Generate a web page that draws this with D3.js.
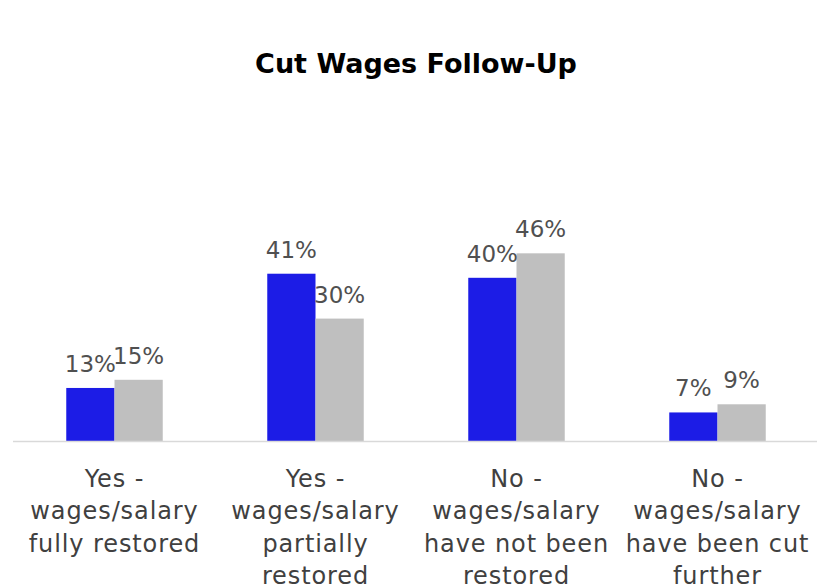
<!DOCTYPE html>
<html><head><meta charset="utf-8">
<script src="https://cdn.jsdelivr.net/npm/d3@7/dist/d3.min.js"></script>
<style>body{margin:0;background:#fff}</style>
</head><body>
<svg id="c" width="817" height="587"></svg>
<script>
const title = "Cut Wages Follow-Up";
const categories = [
  ["Yes -", "wages/salary", "fully restored"],
  ["Yes -", "wages/salary", "partially", "restored"],
  ["No -", "wages/salary", "have not been", "restored"],
  ["No -", "wages/salary", "have been cut", "further"]
];
const seriesNames = ["Series A", "Series B"];
const seriesA = [13, 41, 40, 7];
const seriesB = [15, 30, 46, 9];
const colors = ["#1c1ce6", "#bfbfbf"];

const svg = d3.select("#c");
const left = 13, right = 817, baseY = 441;
const font = "'DejaVu Sans', sans-serif";

svg.append("text").attr("x", 416).attr("y", 73).attr("text-anchor", "middle")
  .attr("font-family", font).attr("font-weight", "bold").attr("font-size", 27)
  .attr("fill", "#000").text(title);

const x0 = d3.scaleBand().domain(d3.range(categories.length)).range([left, right]).paddingInner(0.52).paddingOuter(0.26);
const x1 = d3.scaleBand().domain([0, 1]).range([0, x0.bandwidth()]);
const y = d3.scaleLinear().domain([0, 60]).range([baseY, baseY - 4.08 * 60]);

const data = categories.map((c, i) => ({i, vals: [seriesA[i], seriesB[i]]}));
const g = svg.append("g");
const groups = g.selectAll("g.cat").data(data).join("g").attr("class", "cat")
  .attr("transform", d => `translate(${x0(d.i) + 1},0)`);
groups.selectAll("rect").data(d => d.vals.map((v, s) => ({v, s}))).join("rect")
  .attr("x", d => x1(d.s)).attr("width", x1.bandwidth())
  .attr("y", d => y(d.v)).attr("height", d => baseY - y(d.v))
  .attr("fill", d => colors[d.s]);
groups.selectAll("text.lbl").data(d => d.vals.map((v, s) => ({v, s}))).join("text")
  .attr("class", "lbl")
  .attr("x", d => x1(d.s) + x1.bandwidth() / 2)
  .attr("y", d => y(d.v) - 16)
  .attr("text-anchor", "middle").attr("font-family", font).attr("font-size", 23)
  .attr("fill", "#505050").text(d => d.v + "%");

svg.append("line").attr("x1", left).attr("x2", right).attr("y1", baseY + 0.5).attr("y2", baseY + 0.5)
  .attr("stroke", "#d9d9d9").attr("stroke-width", 1.5);

const xa = svg.append("g");
categories.forEach((lines, i) => {
  const cx = x0(i) + x0.bandwidth() / 2 + 1;
  const t = xa.append("text").attr("text-anchor", "middle").attr("font-family", font)
    .attr("font-size", 24).attr("letter-spacing", 0.9).attr("fill", "#404040");
  lines.forEach((ln, k) => {
    t.append("tspan").attr("x", cx).attr("y", 487 + k * 32.3).text(ln);
  });
});
</script>
</body></html>
